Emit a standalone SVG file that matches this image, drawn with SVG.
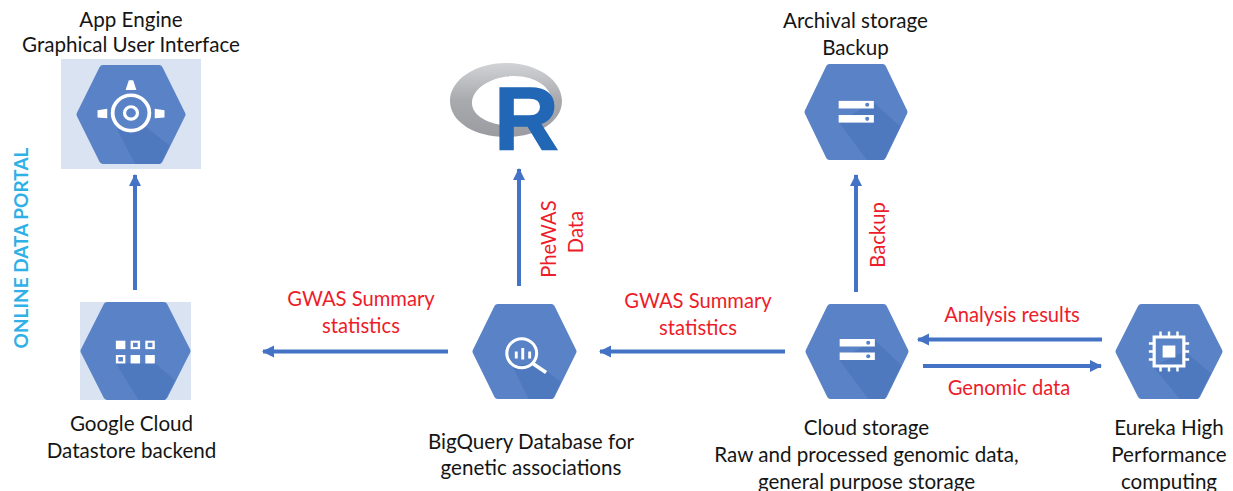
<svg xmlns="http://www.w3.org/2000/svg" width="1233" height="491" viewBox="0 0 1233 491">
<style>
text{font-family:"Lato","Carlito","Liberation Sans",sans-serif;font-size:20.6px;text-anchor:middle}
.k{fill:#151515}
.r{fill:#ed1c2a;font-size:20.2px}
.p{fill:#2fb0e6;font-weight:700;font-size:19px}
.c{fill:none;stroke:#4472c4;stroke-width:4}
.w{fill:#fff}
.wl{fill:none;stroke:#fff}
.d{fill:#4f79bf}
.hx{fill:#5a82c6;stroke:#5a82c6;stroke-width:7;stroke-linejoin:round}
</style>
<defs>
<marker id="a" viewBox="0 0 12 12" refX="11" refY="6" markerWidth="3.1" markerHeight="3.1" orient="auto"><path d="M0,0L12,6L0,12Z" fill="#4472c4"/></marker>
<linearGradient id="ring" x1="0" y1="0" x2="0" y2="1"><stop offset="0" stop-color="#d2d3d6"/><stop offset=".5" stop-color="#a8aaae"/><stop offset="1" stop-color="#9a9ca1"/></linearGradient>
<clipPath id="hc"><path d="M-27,-47.500L27,-47.500L50.500,0L27,47.500L-27,47.500L-50.500,0Z"/></clipPath>
<g id="hex">
<path class="hx" d="M-26,-44L26,-44L47,0L26,44L-26,44L-47,0Z"/>
</g>
</defs>
<rect x="61" y="59" width="140" height="110" fill="#d9e3f2"/>
<rect x="80" y="302" width="111" height="98" fill="#d9e3f2"/>
<g id="app-engine">
<g transform="translate(131,114.500) scale(1.08,1.04)"><use href="#hex"/>
<path class="d" clip-path="url(#hc)" d="M14,12L60,50L10,60L-13,14Z"/>
<circle cy="-1.500" r="17" class="wl" stroke-width="3.500"/>
<circle cy="-1.500" r="6" class="wl" stroke-width="3"/>
<path class="w" d="M-2,-33H2L5,-23.500H-5Z"/>
<path class="w" d="M-31,-4L-22,-5.500V3.500L-31,3Z"/>
<path class="w" d="M31,-4L22,-5.500V3.500L31,3Z"/></g>
<text class="k" x="131" y="27">App Engine</text>
<text class="k" x="131" y="52">Graphical User Interface</text>
</g>
<g id="datastore">
<g transform="translate(135.500,351) scale(1.09,1.03)"><use href="#hex"/>
<path class="d" clip-path="url(#hc)" d="M18,12L60,50L10,60L-18,12Z"/>
<g class="w"><rect x="-18" y="-10" width="8.700" height="8.200"/><rect x="-4.500" y="-10" width="8.700" height="8.200"/><rect x="9" y="-10" width="8.700" height="8.200"/>
<rect x="-18" y="3.900" width="8.700" height="8.200"/><rect x="-4.500" y="3.900" width="8.700" height="8.200"/><rect x="9" y="3.900" width="8.700" height="8.200"/></g>
<g fill="#5a82c6"><rect x="-2.300" y="-8" width="4.300" height="4.200"/><rect x="11.200" y="-8" width="4.300" height="4.200"/><rect x="-15.800" y="5.900" width="4.300" height="4.200"/></g>
</g>
<text class="k" x="131.500" y="431">Google Cloud</text>
<text class="k" x="131.500" y="458">Datastore backend</text>
</g>
<g id="r-logo">
<path fill-rule="evenodd" fill="url(#ring)" d="M450,101C450,80 475,63 506,63C537,63 562,80 562,101C562,122 537,137 506,137C475,137 450,122 450,101ZM472,103C472,117 492,126 514,126C536,126 552,116 552,102C552,88 536,76 514,76C492,76 472,88 472,103Z"/>
<text x="526.500" y="149" style="font-family:'Liberation Sans',sans-serif;font-weight:700;font-size:89px;stroke:#2167b5;stroke-width:1.5px" fill="#2167b5">R</text>
</g>
<g id="bigquery">
<g transform="translate(524.500,351.500) scale(1.03,1)"><use href="#hex"/>
<path class="d" clip-path="url(#hc)" d="M12,12L60,50L10,60L-12,14Z"/>
<circle cx="-2.700" cy="1.800" r="14.500" class="wl" stroke-width="3"/>
<path class="wl" stroke-width="3.500" d="M8,12L21,21"/>
<path class="wl" stroke-width="2.800" d="M-8,0V7M-1.700,-3.500V8M5,0V7"/>
</g>
<text class="k" x="531" y="449">BigQuery Database for</text>
<text class="k" x="531" y="475">genetic associations</text>
</g>
<g id="archive">
<g transform="translate(856,112) scale(1.02,1.01)"><use href="#hex"/>
<path class="d" clip-path="url(#hc)" d="M17,-10L60,30L20,60L-17,10Z"/>
<rect class="w" x="-17" y="-11" width="34.500" height="7.500"/><rect class="w" x="-17" y="3" width="34.500" height="7.500"/>
<circle cx="11" cy="-7.200" r="2" fill="#5a82c6"/><circle cx="11" cy="6.800" r="2" fill="#5a82c6"/></g>
<text class="k" x="855.500" y="28">Archival storage</text>
<text class="k" x="855.500" y="55">Backup</text>
</g>
<g id="cloud-storage">
<g transform="translate(857,351.500) scale(1.02,1)"><use href="#hex"/>
<path class="d" clip-path="url(#hc)" d="M17,-12L60,30L20,60L-17,9Z"/>
<rect class="w" x="-17" y="-12.500" width="34.500" height="7.500"/><rect class="w" x="-17" y="1" width="34.500" height="7.500"/>
<circle cx="11" cy="-8.700" r="2" fill="#5a82c6"/><circle cx="11" cy="4.800" r="2" fill="#5a82c6"/></g>
<text class="k" x="866.500" y="435">Cloud storage</text>
<text class="k" x="866.500" y="462">Raw and processed genomic data,</text>
<text class="k" x="866.500" y="489">general purpose storage</text>
</g>
<g id="eureka">
<g transform="translate(1169,351.500) scale(1.06,1)"><use href="#hex"/>
<path class="d" clip-path="url(#hc)" d="M15,0L60,40L20,60L-15,15Z"/>
<rect x="-14" y="-14.500" width="28" height="29" class="wl" stroke-width="3"/>
<rect x="-6" y="-6" width="12" height="12" class="w"/>
<path class="wl" stroke-width="2.300" d="M-8,-15v-5M0,-15v-5M8,-15v-5M-8,15v5M0,15v5M8,15v5M-14,-8h-5M-14,0h-5M-14,8h-5M14,-8h5M14,0h5M14,8h5"/></g>
<text class="k" x="1169" y="435">Eureka High</text>
<text class="k" x="1169" y="462">Performance</text>
<text class="k" x="1169" y="489">computing</text>
</g>
<g id="connectors">
<path class="c" marker-end="url(#a)" d="M135,290V175"/>
<path class="c" marker-end="url(#a)" d="M519,286V169"/>
<path class="c" marker-end="url(#a)" d="M856,292V175"/>
<path class="c" marker-end="url(#a)" d="M448,351.500H263"/>
<path class="c" marker-end="url(#a)" d="M785,351.500H600"/>
<path class="c" marker-end="url(#a)" d="M1102,339.500H918"/>
<path class="c" marker-end="url(#a)" d="M923,366H1101"/>
</g>
<g id="labels">
<text class="r" x="361" y="306">GWAS Summary</text>
<text class="r" x="361" y="333">statistics</text>
<text class="r" x="698" y="308">GWAS Summary</text>
<text class="r" x="698" y="335">statistics</text>
<text class="r" x="1012" y="322">Analysis results</text>
<text class="r" x="1009" y="395">Genomic data</text>
<text class="r" transform="translate(556,239) rotate(-90)">PheWAS</text>
<text class="r" transform="translate(583,232) rotate(-90)">Data</text>
<text class="r" transform="translate(885,235) rotate(-90)">Backup</text>
<text class="p" transform="translate(28,248) rotate(-90)">ONLINE DATA PORTAL</text>
</g>
</svg>
